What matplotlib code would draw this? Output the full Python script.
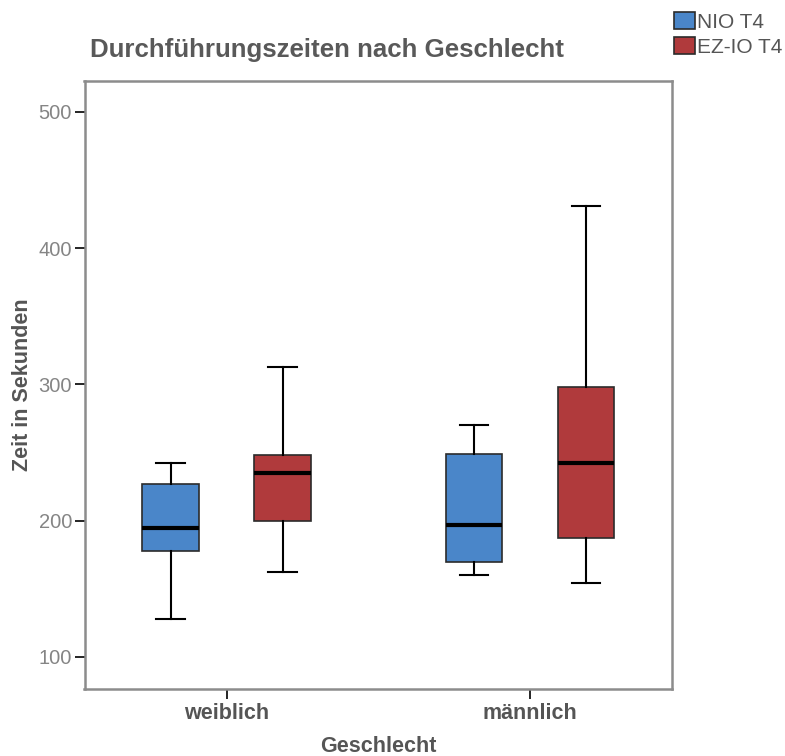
import matplotlib
matplotlib.use("Agg")
import matplotlib.pyplot as plt
from matplotlib.patches import Patch

plt.rcParams['font.family'] = ['Liberation Sans', 'DejaVu Sans']

# Boxplot statistics per group (seconds)
groups = ["weiblich", "männlich"]
series = ["NIO T4", "EZ-IO T4"]
colors = ["#4A86C9", "#B03A3C"]

nio_whislo = [128, 160]
nio_q1 = [178, 170]
nio_med = [195, 197]
nio_q3 = [227, 249]
nio_whishi = [242, 270]

ez_whislo = [162, 154]
ez_q1 = [200, 187]
ez_med = [235, 242]
ez_q3 = [248, 298]
ez_whishi = [313, 431]

yticks = [100, 200, 300, 400, 500]

stats_by_series = [
    (nio_whislo, nio_q1, nio_med, nio_q3, nio_whishi),
    (ez_whislo, ez_q1, ez_med, ez_q3, ez_whishi),
]

fig = plt.figure(figsize=(7.85, 7.56), dpi=100)
ax = fig.add_axes([84.5 / 785, 1 - 689 / 756, 587.5 / 785, 608 / 756])

offsets = [-0.1845, 0.1845]
for (lo, q1, med, q3, hi), color, off in zip(stats_by_series, colors, offsets):
    stats = [dict(whislo=lo[i], q1=q1[i], med=med[i], q3=q3[i], whishi=hi[i], fliers=[])
             for i in range(len(groups))]
    ax.bxp(stats, positions=[i + off for i in range(len(groups))], widths=0.186,
           patch_artist=True, showfliers=False,
           boxprops=dict(facecolor=color, edgecolor="#2b2b2b", linewidth=1.2),
           medianprops=dict(color="black", linewidth=3),
           whiskerprops=dict(color="black", linewidth=1.5),
           capprops=dict(color="black", linewidth=1.5),
           capwidths=0.095)

ax.set_xlim(-0.468, 1.468)
ax.set_ylim(76.5, 522.7)
ax.set_xticks(range(len(groups)))
ax.set_xticklabels(groups, fontsize=15.5, fontweight="bold", color="#555555")
ax.set_yticks(yticks)
ax.set_yticklabels([str(t) for t in yticks], fontsize=14.5, color="#858585")
ax.tick_params(axis="y", length=7, width=1.2, color="black", pad=2)
ax.tick_params(axis="x", length=7, width=1.2, color="black", pad=3)

for spine in ax.spines.values():
    spine.set_color("#8c8c8c")
    spine.set_linewidth(1.8)

ax.set_xlabel("Geschlecht", fontsize=15.5, fontweight="bold", color="#555555")
ax.xaxis.set_label_coords(0.5, -0.077)
ax.set_ylabel("Zeit in Sekunden", fontsize=15.5, fontweight="bold", color="#555555")
ax.yaxis.set_label_coords(-0.088, 0.5)

fig.text(90 / 785, 1 - 50 / 756, "Durchführungszeiten nach Geschlecht",
         fontsize=18.6, fontweight="bold", color="#595959", ha="left", va="center")

handles = [Patch(facecolor=c, edgecolor="#2b2b2b", linewidth=1.2, label=s)
           for c, s in zip(colors, series)]
fig.legend(handles=handles, loc="upper left", bbox_to_anchor=(674 / 785, 1 - 12 / 756),
           frameon=False, fontsize=15, handlelength=1.0, handleheight=0.9,
           handletextpad=0.1, labelspacing=0.25, labelcolor="#555555",
           borderaxespad=0, borderpad=0)

fig.savefig("out.png", dpi=100)
